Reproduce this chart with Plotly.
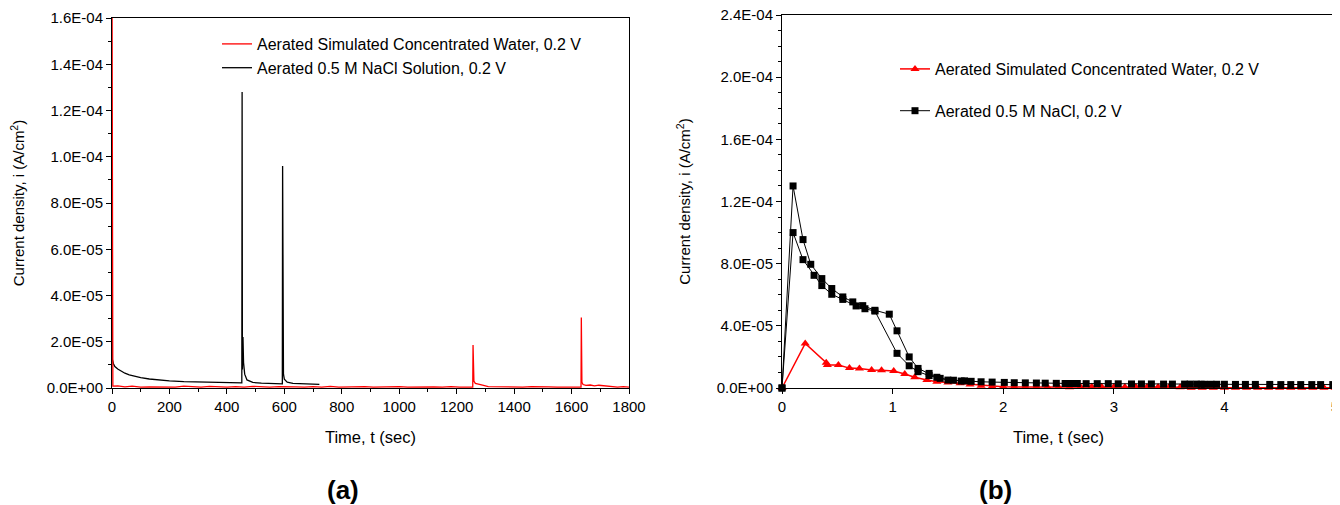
import plotly.graph_objects as go

# ---------------- Panel (a): long-time current transients ----------------
a_red_t = [0, 1, 3, 20, 45, 70, 100, 130, 160, 190, 220, 250, 280, 310, 340,
           370, 400, 430, 460, 490, 520, 550, 580, 610, 640, 670, 700, 730, 760,
           790, 820, 850, 880, 910, 940, 970, 1000, 1030, 1060, 1090, 1120, 1150,
           1180, 1210, 1240, 1256, 1257, 1258, 1260, 1265, 1275, 1290, 1310, 1340,
           1370, 1400, 1430, 1460, 1490, 1520, 1550, 1580, 1610, 1633, 1634, 1636,
           1640, 1650, 1665, 1680, 1695, 1710, 1722, 1740, 1760, 1780, 1800]
a_red_i = [1.8e-4, 2.0e-6, 8e-7, 9e-7, 5e-7, 8e-7, 4e-7, 5e-7, 4e-7, 6e-7, 4e-7,
           8e-7, 5e-7, 4e-7, 7e-7, 5e-7, 4e-7, 6e-7, 4e-7, 7e-7, 5e-7, 4e-7,
           6e-7, 4e-7, 5e-7, 4e-7, 6e-7, 4e-7, 7e-7, 4e-7, 5e-7, 4e-7, 6e-7,
           4e-7, 5e-7, 4e-7, 6e-7, 4e-7, 5e-7, 4e-7, 5e-7, 4e-7, 6e-7, 4e-7,
           5e-7, 4e-7, 1.86e-5, 9.0e-6, 3.0e-6, 2.0e-6, 1.6e-6, 1.2e-6, 6e-7,
           5e-7, 4e-7, 5e-7, 4e-7, 6e-7, 4e-7, 5e-7, 4e-7, 5e-7, 4e-7, 4e-7,
           3.05e-5, 2.5e-6, 1.5e-6, 1.1e-6, 1.3e-6, 9e-7, 1.2e-6, 1.0e-6, 9e-7,
           5e-7, 4e-7, 6e-7, 4e-7]

a_blk_t = [0, 1, 5, 10, 20, 30, 45, 60, 80, 100, 130, 160, 200, 250, 300, 350,
           400, 452, 453, 454, 455, 456, 458, 462, 470, 490, 520, 560, 593, 594,
           595, 597, 600, 610, 630, 660, 700, 722]
a_blk_i = [1.05e-4, 1.25e-5, 1.05e-5, 9.3e-6, 8.2e-6, 7.4e-6, 6.4e-6, 5.7e-6,
           5.0e-6, 4.5e-6, 3.9e-6, 3.5e-6, 3.1e-6, 2.8e-6, 2.6e-6, 2.4e-6,
           2.3e-6, 2.2e-6, 1.28e-4, 8.0e-6, 6.2e-5, 2.2e-5, 1.1e-5, 6.0e-6,
           3.5e-6, 2.4e-6, 2.1e-6, 1.9e-6, 1.8e-6, 9.6e-5, 1.6e-5, 6.0e-6,
           3.8e-6, 2.5e-6, 2.0e-6, 1.8e-6, 1.6e-6, 1.6e-6]

a_xtick_vals = [0, 200, 400, 600, 800, 1000, 1200, 1400, 1600, 1800]
a_ytick_vals = [0, 2e-5, 4e-5, 6e-5, 8e-5, 1.0e-4, 1.2e-4, 1.4e-4, 1.6e-4]
a_ytick_text = ["0.0E+00", "2.0E-05", "4.0E-05", "6.0E-05", "8.0E-05",
                "1.0E-04", "1.2E-04", "1.4E-04", "1.6E-04"]

# ---------------- Panel (b): first 5 seconds ----------------
b_red_t = [0, 0.21, 0.40, 0.41, 0.51, 0.61, 0.70, 0.81, 0.90, 1.01, 1.11, 1.20,
           1.31, 1.40, 1.50, 1.61, 1.70, 1.80, 1.90, 2.00, 2.10, 2.20, 2.30, 2.40,
           2.50, 2.60, 2.70, 2.80, 2.89, 3.00, 3.10, 3.20, 3.30, 3.40, 3.50, 3.60,
           3.70, 3.80, 3.90, 4.00, 4.10, 4.20, 4.30, 4.40, 4.50, 4.60, 4.70, 4.80,
           4.90, 5.00]
b_red_i = [0, 2.87e-5, 1.62e-5, 1.48e-5, 1.48e-5, 1.28e-5, 1.26e-5, 1.16e-5,
           1.15e-5, 1.09e-5, 9.0e-6, 6.9e-6, 5.1e-6, 4.0e-6, 3.6e-6, 3.0e-6,
           2.2e-6, 1.5e-6, 1.0e-6, 8e-7, 7e-7, 7e-7, 6e-7, 6e-7, 6e-7, 5e-7,
           6e-7, 8e-7, 8e-7, 7e-7, 7e-7, 6e-7, 6e-7, 7e-7, 6e-7, 5e-7, 1e-7,
           1e-7, 1e-7, 1e-7, 1e-7, 1e-7, 1e-7, 1e-7, 1e-7, 1e-7, 1e-7, 1e-7,
           1e-7, 1e-7]

b_blkA_t = [0, 0.10, 0.19, 0.26, 0.36, 0.45, 0.55, 0.64, 0.73, 0.84, 0.97, 1.04,
            1.15, 1.23, 1.33, 1.40, 1.50, 1.62, 1.71, 1.80, 1.90, 2.01, 2.10,
            2.20, 2.30, 2.38, 2.48, 2.56, 2.60, 2.63, 2.67, 2.75, 2.85, 2.95,
            3.04, 3.16, 3.25, 3.34, 3.45, 3.53, 3.64, 3.69, 3.75, 3.79, 3.82,
            3.88, 3.93, 4.00, 4.10, 4.19, 4.28, 4.41, 4.51, 4.60, 4.69, 4.79,
            4.87, 4.98]
b_blkA_i = [0, 1.30e-4, 9.55e-5, 7.96e-5, 7.04e-5, 6.40e-5, 5.86e-5, 5.54e-5,
            5.30e-5, 5.00e-5, 4.75e-5, 3.68e-5, 2.00e-5, 1.26e-5, 9.4e-6,
            6.9e-6, 5.1e-6, 4.5e-6, 4.3e-6, 4.0e-6, 3.8e-6, 3.6e-6, 3.4e-6,
            3.3e-6, 3.2e-6, 3.1e-6, 3.0e-6, 2.9e-6, 2.9e-6, 2.9e-6, 2.9e-6,
            2.8e-6, 2.8e-6, 2.8e-6, 2.7e-6, 2.6e-6, 2.6e-6, 2.6e-6, 2.5e-6,
            2.5e-6, 2.5e-6, 2.5e-6, 2.5e-6, 2.4e-6, 2.4e-6, 2.4e-6, 2.4e-6,
            2.4e-6, 2.3e-6, 2.3e-6, 2.3e-6, 2.3e-6, 2.2e-6, 2.2e-6, 2.2e-6,
            2.2e-6, 2.2e-6, 2.2e-6]

b_blkB_t = [0, 0.10, 0.19, 0.29, 0.36, 0.45, 0.55, 0.67, 0.75, 0.84, 1.04,
            1.15, 1.23, 1.33, 1.43, 1.55, 1.65]
b_blkB_i = [0, 1.00e-4, 8.26e-5, 7.25e-5, 6.59e-5, 6.03e-5, 5.70e-5, 5.28e-5,
            5.10e-5, 4.95e-5, 2.23e-5, 1.43e-5, 1.05e-5, 8.0e-6, 6.2e-6,
            5.0e-6, 4.6e-6]

b_xtick_vals = [0, 1, 2, 3, 4, 5]
b_ytick_vals = [0, 4e-5, 8e-5, 1.2e-4, 1.6e-4, 2.0e-4, 2.4e-4]
b_ytick_text = ["0.0E+00", "4.0E-05", "8.0E-05", "1.2E-04", "1.6E-04",
                "2.0E-04", "2.4E-04"]

FONT = "Liberation Sans, Arial, sans-serif"
RED = "#ff0000"
BLACK = "#000000"

fig = go.Figure()

# Panel (a): black drawn first so the red trace lies on top of it
fig.add_trace(go.Scatter(x=a_blk_t, y=a_blk_i, mode="lines",
                         line=dict(color=BLACK, width=1.3),
                         name="Aerated 0.5 M NaCl Solution, 0.2 V", legendrank=2,
                         xaxis="x", yaxis="y", legend="legend"))
fig.add_trace(go.Scatter(x=a_red_t, y=a_red_i, mode="lines",
                         line=dict(color=RED, width=1.3),
                         name="Aerated Simulated Concentrated Water, 0.2 V",
                         legendrank=1,
                         xaxis="x", yaxis="y", legend="legend"))

# Panel (b)
fig.add_trace(go.Scatter(x=b_red_t, y=b_red_i, mode="lines+markers",
                         line=dict(color=RED, width=1.5),
                         marker=dict(symbol="triangle-up", size=8, color=RED),
                         name="Aerated Simulated Concentrated Water, 0.2 V",
                         xaxis="x2", yaxis="y2", legend="legend2",
                         legendgroup="r", cliponaxis=False))
fig.add_trace(go.Scatter(x=b_blkB_t, y=b_blkB_i, mode="lines+markers",
                         line=dict(color=BLACK, width=1),
                         marker=dict(symbol="square", size=7, color=BLACK),
                         name="Aerated 0.5 M NaCl, 0.2 V", showlegend=False,
                         xaxis="x2", yaxis="y2", legend="legend2",
                         legendgroup="k", cliponaxis=False))
fig.add_trace(go.Scatter(x=b_blkA_t, y=b_blkA_i, mode="lines+markers",
                         line=dict(color=BLACK, width=1),
                         marker=dict(symbol="square", size=7, color=BLACK),
                         name="Aerated 0.5 M NaCl, 0.2 V",
                         xaxis="x2", yaxis="y2", legend="legend2",
                         legendgroup="k", cliponaxis=False))

# The page body has an 8 px margin, so the figure is drawn 8 px in from the
# window's corner; size it to fill the rest of the 1340x505 window.
OFF = 8
W, H = 1340 - OFF, 505 - OFF
def px_x(p):
    return (p - OFF) / W
def px_y(p):
    return 1 - (p - OFF) / H

axis_common = dict(showline=True, linecolor=BLACK, linewidth=1, mirror=True,
                   ticks="outside", ticklen=5, tickcolor=BLACK, tickwidth=1,
                   showgrid=False, zeroline=False, automargin=False,
                   ticklabeloverflow="allow",
                   tickfont=dict(family=FONT, size=15, color=BLACK))
ytitle = "Current density, i (A/cm<sup>2</sup>)"
xtitle = "Time, t (sec)"
XT_FONT = dict(family=FONT, size=16.5, color=BLACK)
YT_FONT = dict(family=FONT, size=15, color=BLACK)

fig.update_layout(
    width=W, height=H,
    margin=dict(l=0, r=0, t=0, b=0, autoexpand=False),
    paper_bgcolor="white", plot_bgcolor="white",
    font=dict(family=FONT, size=14, color=BLACK),
    xaxis=dict(domain=[px_x(112), px_x(629)], range=[0, 1800], anchor="y",
               tickmode="array", tickvals=a_xtick_vals,
               minor=dict(tickmode="linear", tick0=0, dtick=100, ticks="outside",
                          ticklen=3, tickcolor=BLACK),
               title=dict(text=xtitle, font=XT_FONT, standoff=17),
               **axis_common),
    yaxis=dict(domain=[px_y(388), px_y(18)], range=[0, 1.6e-4], anchor="x",
               tickmode="array", tickvals=a_ytick_vals, ticktext=a_ytick_text,
               minor=dict(tickmode="linear", tick0=0, dtick=1e-5, ticks="outside",
                          ticklen=3, tickcolor=BLACK),
               title=dict(text=ytitle, font=YT_FONT, standoff=18),
               **axis_common),
    xaxis2=dict(domain=[px_x(782), px_x(1335)], range=[0, 5], anchor="y2",
                tickmode="array", tickvals=b_xtick_vals,
                title=dict(text=xtitle, font=XT_FONT, standoff=17),
                **axis_common),
    yaxis2=dict(domain=[px_y(388), px_y(15)], range=[0, 2.4e-4], anchor="x2",
                tickmode="array", tickvals=b_ytick_vals, ticktext=b_ytick_text,
                minor=dict(tickmode="linear", tick0=0, dtick=1e-5, ticks="outside",
                           ticklen=3, tickcolor=BLACK),
                title=dict(text=ytitle, font=YT_FONT, standoff=22),
                **axis_common),
    legend=dict(x=px_x(217), y=px_y(27), xanchor="left", yanchor="top",
                bgcolor="rgba(0,0,0,0)", font=dict(family=FONT, size=16),
                tracegroupgap=0),
    legend2=dict(x=px_x(895), y=px_y(52), xanchor="left", yanchor="top",
                 bgcolor="rgba(0,0,0,0)", font=dict(family=FONT, size=16),
                 traceorder="grouped", tracegroupgap=18),
    annotations=[
        dict(text="<b>(a)</b>", x=px_x(343), y=px_y(490), xref="paper", yref="paper",
             xanchor="center", yanchor="middle",
             showarrow=False, font=dict(family=FONT, size=26, color=BLACK)),
        dict(text="<b>(b)</b>", x=px_x(995), y=px_y(490), xref="paper", yref="paper",
             xanchor="center", yanchor="middle",
             showarrow=False, font=dict(family=FONT, size=26, color=BLACK)),
    ],
)

fig.write_html("out.html")
